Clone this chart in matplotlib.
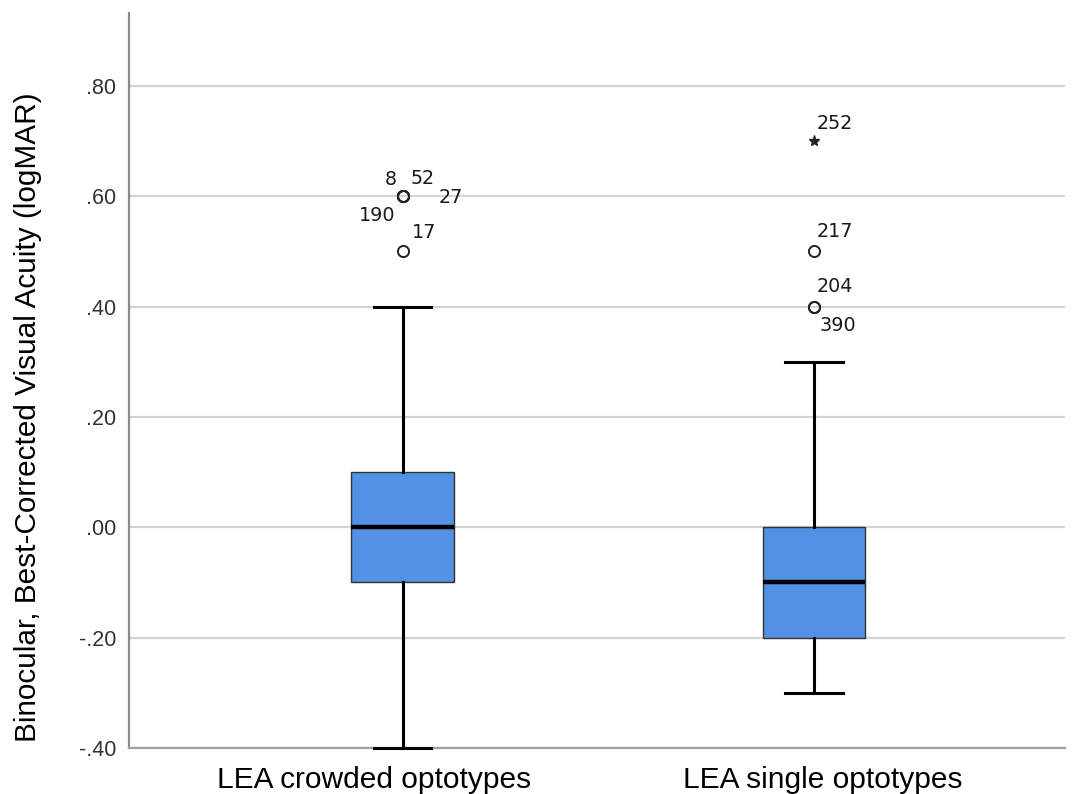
import matplotlib.pyplot as plt
from matplotlib.transforms import ScaledTranslation

# Data
groups = ['LEA crowded optotypes', 'LEA single optotypes']
q1 = [-0.10, -0.20]
medians = [0.00, -0.10]
q3 = [0.10, 0.00]
whisker_low = [-0.40, -0.30]
whisker_high = [0.40, 0.30]
outliers = [[0.60, 0.60, 0.60, 0.60, 0.50], [0.50, 0.40, 0.40]]
extremes = [[], [0.70]]

# Case labels: (group index, value, label, offset in px)
case_labels = [
    (0, 0.60, '8', (-12, 17)),
    (0, 0.60, '52', (20, 18)),
    (0, 0.60, '27', (48, -1)),
    (0, 0.60, '190', (-25, -19)),
    (0, 0.50, '17', (21, 19)),
    (1, 0.70, '252', (21, 18)),
    (1, 0.50, '217', (21, 20)),
    (1, 0.40, '204', (21, 20)),
    (1, 0.40, '390', (24, -19)),
]

yticks = [-0.40, -0.20, 0.00, 0.20, 0.40, 0.60, 0.80]
ytick_labels = ['-.40', '-.20', '.00', '.20', '.40', '.60', '.80']

fig = plt.figure(figsize=(10.74, 7.94), dpi=100)
ax = fig.add_axes([0.1201, 0.0579, 0.8715, 0.9257])

stats = []
for i in range(len(groups)):
    stats.append({'q1': q1[i], 'med': medians[i], 'q3': q3[i],
                  'whislo': whisker_low[i], 'whishi': whisker_high[i],
                  'fliers': outliers[i]})

positions = [1, 2]
ax.bxp(stats, positions=positions, widths=0.25, patch_artist=True,
       boxprops=dict(facecolor='#5291e3', edgecolor='#333333', linewidth=1.0),
       medianprops=dict(color='black', linewidth=3.2),
       whiskerprops=dict(color='black', linewidth=2.2),
       capprops=dict(color='black', linewidth=2.2),
       capwidths=0.14,
       flierprops=dict(marker='o', markersize=8, markerfacecolor='none',
                       markeredgecolor='#222222', markeredgewidth=1.4),
       zorder=3)

for i, vals in enumerate(extremes):
    if vals:
        ax.plot([positions[i]] * len(vals), vals, linestyle='none', marker='*',
                markersize=8, color='#222222', zorder=4)

px = 0.72
for gi, val, lab, (dx, dy) in case_labels:
    ax.annotate(lab, (positions[gi], val), xytext=(dx * px, dy * px),
                textcoords='offset points', ha='center', va='center',
                fontsize=13.8, color='#1a1a1a', family='DejaVu Sans')

ax.set_xlim(0.335, 2.61)
ax.set_ylim(-0.40, 0.932)
ax.set_yticks(yticks)
ax.set_yticklabels(ytick_labels, family='Liberation Sans', fontsize=15.5,
                   color='#333333')
ax.set_xticks(positions)
ax.set_xticklabels(groups, family='Liberation Sans', fontsize=21.5)
ax.tick_params(axis='both', length=0)
ax.tick_params(axis='y', pad=9)
ax.tick_params(axis='x', pad=13)

# category labels sit a little off the box centres in the original
label_shift = [-29, 9]
for lbl, dx in zip(ax.get_xticklabels(), label_shift):
    lbl.set_transform(lbl.get_transform() +
                      ScaledTranslation(dx / 100, 0, fig.dpi_scale_trans))

ax.yaxis.grid(True, color='#d4d4d4', linewidth=1.6, zorder=0)
ax.set_axisbelow(True)

for side in ['top', 'right']:
    ax.spines[side].set_visible(False)
ax.spines['left'].set_color('#8a8a8a')
ax.spines['left'].set_linewidth(1.6)
ax.spines['bottom'].set_color('#a0a0a0')
ax.spines['bottom'].set_linewidth(1.6)

ax.set_ylabel('Binocular, Best-Corrected Visual Acuity (logMAR)',
              family='Liberation Sans', fontsize=21.4)
ax.yaxis.set_label_coords(-0.093, 0.45)

for artist in ax.lines:
    artist.set_clip_on(False)

fig.savefig('out.png', dpi=100)
